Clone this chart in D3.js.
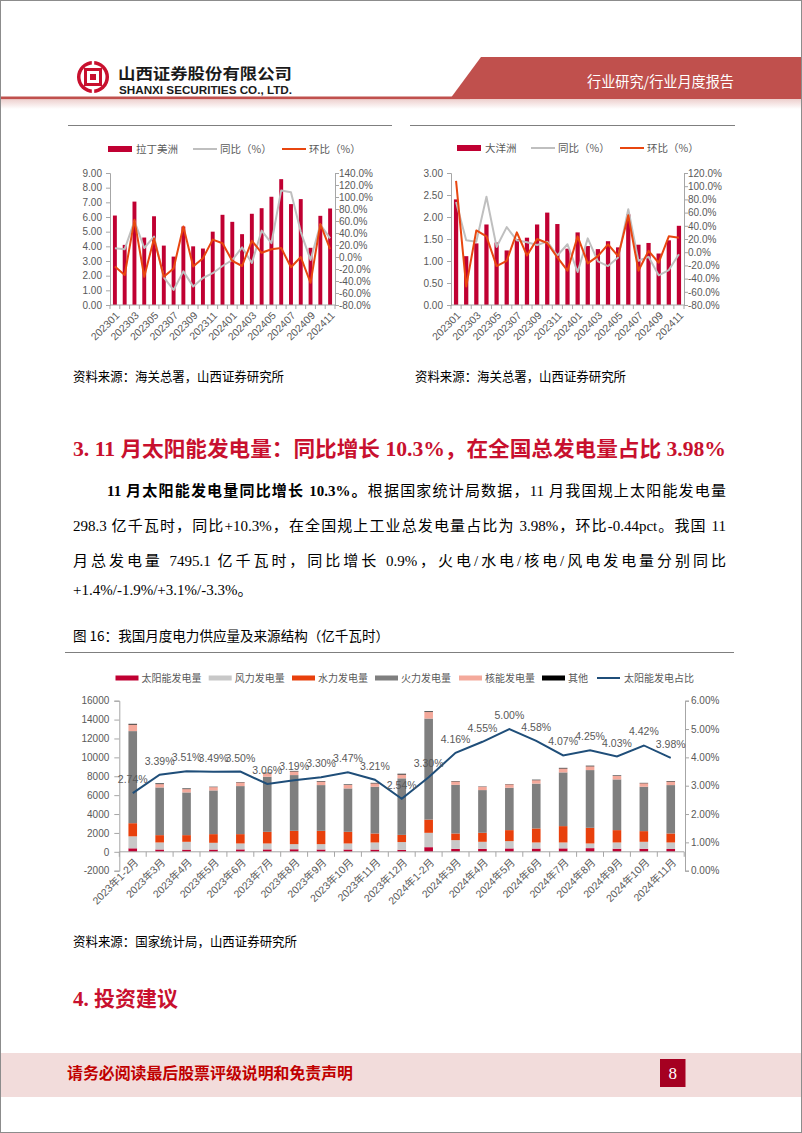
<!DOCTYPE html>
<html><head><meta charset="utf-8">
<script src="https://cdn.jsdelivr.net/npm/d3@7"></script>
<style>html,body{margin:0;padding:0;background:#fff;} svg{display:block}</style>
</head><body>
<svg id="page" width="802" height="1133"></svg>
<script>
// ---------------- DATA ----------------
const months = ['202301','202302','202303','202304','202305','202306','202307','202308','202309','202310','202311','202312','202401','202402','202403','202404','202405','202406','202407','202408','202409','202410','202411'];
const monthTickLabels = ['202301','202303','202305','202307','202309','202311','202401','202403','202405','202407','202409','202411'];

const latamValues = [6.10, 4.10, 7.05, 4.60, 6.05, 4.05, 3.30, 5.35, 4.00, 3.85, 5.00, 6.15, 5.67, 4.83, 6.22, 6.60, 7.38, 8.58, 6.88, 7.22, 3.90, 6.08, 6.58];
const latamYoY = [14.7, 13, 60, 15, 34, -34, -55, -24, -49, -35, -27, -15, -5, 16, -10, 44, 23, 111, 108, 42, -5, 54, 31];
const latamMoM = [-16, -30, 62, -33, 31, -33, -19, 51, -16, -2, 29, 23, -6.5, -15, 27, 7, 13, 15, -17, 0, -43, 55, 13];

const oceaniaValues = [2.40, 1.11, 1.40, 1.83, 1.42, 1.24, 1.50, 1.53, 1.83, 2.10, 1.84, 1.28, 1.65, 1.34, 1.27, 1.45, 1.31, 2.06, 1.37, 1.41, 1.17, 1.47, 1.80];
const oceaniaYoY = [76, 18, 16, 84, 8, 38, 18, 15, 11, 16, -5, 12, -30, 21, -14, -21, -8, 65, -13, -7, -35, -27, -3];
const oceaniaMoM = [108, -52, 33, 24, -21, -13, 30, -5, 20, 14, -8, -28, 24, -17, -6, 12, -6, 56, -28, 2, -16, 24, 22];

const latamLeftTicks = [0,1,2,3,4,5,6,7,8,9];
const latamRightTicks = [-80,-60,-40,-20,0,20,40,60,80,100,120,140];
const oceaniaLeftTicks = [0,0.5,1,1.5,2,2.5,3];
const oceaniaRightTicks = [-80,-60,-40,-20,0,20,40,60,80,100,120];

const powerCategories = ['2023年1-2月','2023年3月','2023年4月','2023年5月','2023年6月','2023年7月','2023年8月','2023年9月','2023年10月','2023年11月','2023年12月','2024年1-2月','2024年3月','2024年4月','2024年5月','2024年6月','2024年7月','2024年8月','2024年9月','2024年10月','2024年11月'];
const solarGen   = [370, 246, 233, 240, 258, 256, 272, 248, 248, 236, 212, 491, 310, 313, 359, 346, 364, 389, 327, 325, 298];
const windGen    = [1270, 743, 827, 714, 625, 627, 540, 564, 635, 753, 820, 1520, 926, 747, 771, 643, 625, 494, 662, 735, 691];
const hydroGen   = [1390, 777, 706, 918, 989, 1236, 1413, 1413, 1236, 954, 760, 1400, 707, 953, 1166, 1484, 1731, 1660, 1307, 1130, 954];
const thermalGen = [9750, 5051, 4522, 4628, 5087, 5829, 5900, 4840, 4593, 4945, 5990, 10700, 5150, 4522, 4486, 4750, 5687, 6111, 5369, 4698, 5122];
const nuclearGen = [690, 353, 353, 353, 388, 380, 390, 370, 370, 360, 400, 690, 360, 350, 360, 360, 420, 400, 370, 370, 380];
const otherGen   = [80, 70, 60, 35, 36, 50, 50, 50, 50, 50, 80, 69, 40, 30, 30, 50, 60, 60, 50, 40, 50];
const solarShare = [2.74, 3.39, 3.51, 3.49, 3.50, 3.06, 3.19, 3.30, 3.47, 3.21, 2.54, 3.30, 4.16, 4.55, 5.00, 4.58, 4.07, 4.25, 4.03, 4.42, 3.98];
const powerLeftTicks = [-2000,0,2000,4000,6000,8000,10000,12000,14000,16000];
const powerRightTicks = [0,1,2,3,4,5,6];
const powerSeriesNames = ['太阳能发电量','风力发电量','水力发电量','火力发电量','核能发电量','其他'];
const shareSeriesName = '太阳能发电占比';

// ---------------- STYLE ----------------
const svg = d3.select('#page');
const SANS = '"Liberation Sans", Arial, "Noto Sans CJK SC", sans-serif';
const CJK = '"Noto Sans CJK SC", sans-serif';
const SERIF = '"Liberation Serif", "Times New Roman", "Noto Sans CJK SC", serif';
const BAR_RED = '#C00032';
const MOM_RED = '#E8460F';
const YOY_GREY = '#BFBFBF';
const AX = '#A6A6A6';
const TXT = '#595959';
const powerColors = ['#C00032', '#C8C8C8', '#E8400C', '#7F7F7F', '#F4A99B', '#000000'];
const SHARE_BLUE = '#1F4E79';

// ---------------- PAGE FRAME / HEADER ----------------
const defs = svg.append('defs');
const gr = defs.append('linearGradient').attr('id','pinkfade').attr('x1',0).attr('y1',0).attr('x2',0).attr('y2',1);
gr.append('stop').attr('offset','0%').attr('stop-color','#EDCFCD');
gr.append('stop').attr('offset','100%').attr('stop-color','#FFFFFF');

svg.append('rect').attr('x',0).attr('y',99).attr('width',802).attr('height',10).attr('fill','url(#pinkfade)');
svg.append('rect').attr('x',0).attr('y',96.5).attr('width',470).attr('height',2.6).attr('fill','#C0504D');
svg.append('path').attr('d','M481,57 L802,57 L802,99 L450,99 Z').attr('fill','#C0504D');
svg.append('text').attr('x',587).attr('y',87).attr('fill','#fff').attr('font-family',CJK).attr('font-size',14.5)
  .attr('textLength',147).attr('lengthAdjust','spacingAndGlyphs').text('行业研究/行业月度报告');

// logo
const logo = svg.append('g').attr('transform','translate(93,77)');
logo.append('circle').attr('r',16).attr('fill','#C8102E');
logo.append('circle').attr('r',12.5).attr('fill','#fff');
logo.append('rect').attr('x',-9).attr('y',-9).attr('width',18).attr('height',18).attr('fill','#C8102E');
logo.append('rect').attr('x',-6).attr('y',-6).attr('width',12).attr('height',12).attr('fill','#fff');
logo.append('rect').attr('x',-3).attr('y',-3).attr('width',6).attr('height',6).attr('fill','#C8102E');
logo.append('rect').attr('x',-1.2).attr('y',-16).attr('width',2.4).attr('height',7).attr('fill','#fff');
logo.append('rect').attr('x',-1.2).attr('y',9).attr('width',2.4).attr('height',7).attr('fill','#fff');

svg.append('text').attr('x',118).attr('y',79).attr('fill','#1a1a1a').attr('font-family',CJK).attr('font-weight','bold')
  .attr('font-size',15).attr('textLength',174).attr('lengthAdjust','spacingAndGlyphs').text('山西证券股份有限公司');
svg.append('text').attr('x',119).attr('y',93.5).attr('fill','#1a1a1a').attr('font-family','"Liberation Sans Narrow","Liberation Sans",Arial,sans-serif').attr('font-weight','bold')
  .attr('font-size',11.5).attr('textLength',173).attr('lengthAdjust','spacingAndGlyphs').text('SHANXI SECURITIES CO., LTD.');

// ---------------- SMALL CHARTS ----------------
svg.append('line').attr('x1',68).attr('x2',392).attr('y1',125.5).attr('y2',125.5).attr('stroke','#7f7f7f');
svg.append('line').attr('x1',410).attr('x2',735).attr('y1',125.5).attr('y2',125.5).attr('stroke','#7f7f7f');

function styleAxis(sel){
  sel.select('.domain').attr('stroke',AX);
  sel.selectAll('.tick line').attr('stroke',AX);
  sel.selectAll('.tick text').attr('fill',TXT).attr('font-family',SANS).attr('font-size',10);
}

function smallChart(cfg){
  const g = svg.append('g');
  const yTop = 173, yBot = 305;
  const x = d3.scaleBand().domain(months).range([cfg.x0, cfg.x1]).paddingInner(cfg.pad).paddingOuter(cfg.pad/2);
  const yL = d3.scaleLinear().domain(cfg.lDomain).range([yBot, yTop]);
  const yR = d3.scaleLinear().domain(cfg.rDomain).range([yBot, yTop]);
  const cx = i => x(months[i]) + x.bandwidth()/2;

  g.selectAll('rect.bar').data(cfg.values).join('rect').attr('class','bar')
    .attr('x',(d,i)=>x(months[i])).attr('y',d=>yL(d)).attr('width',x.bandwidth())
    .attr('height',d=>yL(0)-yL(d)).attr('fill',BAR_RED);

  const la = g.append('g').attr('transform',`translate(${cfg.x0},0)`)
    .call(d3.axisLeft(yL).tickValues(cfg.lTicks).tickFormat(d3.format('.2f')).tickSize(4).tickPadding(4));
  styleAxis(la);
  const ra = g.append('g').attr('transform',`translate(${cfg.x1},0)`)
    .call(d3.axisRight(yR).tickValues(cfg.rTicks).tickFormat(d=>d.toFixed(1)+'%').tickSize(4).tickPadding(0));
  styleAxis(ra);

  g.append('line').attr('x1',cfg.x0).attr('x2',cfg.x1).attr('y1',yL(0)).attr('y2',yL(0)).attr('stroke',AX);
  const step = x.step();
  g.selectAll('line.xt').data(d3.range(months.length+1)).join('line').attr('class','xt')
    .attr('x1',k=>cfg.x0+k*step).attr('x2',k=>cfg.x0+k*step).attr('y1',yL(0)).attr('y2',yL(0)+4).attr('stroke',AX);
  g.selectAll('text.xl').data(monthTickLabels).join('text').attr('class','xl')
    .attr('transform',d=>`translate(${cx(months.indexOf(d))+3},${yL(0)+9}) rotate(-45)`)
    .attr('text-anchor','end').attr('dy','0.3em').attr('fill',TXT).attr('font-family',SANS).attr('font-size',10.5).text(d=>d);

  const line = d3.line().x((d,i)=>cx(i)).y(d=>yR(d));
  g.append('path').attr('d',line(cfg.yoy)).attr('fill','none').attr('stroke',YOY_GREY).attr('stroke-width',2).attr('stroke-linejoin','round');
  g.append('path').attr('d',line(cfg.mom)).attr('fill','none').attr('stroke',MOM_RED).attr('stroke-width',2).attr('stroke-linejoin','round');

  const L = cfg.legend, ly = cfg.legendY;
  g.append('rect').attr('x',L[0]).attr('y',ly-3).attr('width',24).attr('height',6).attr('fill',BAR_RED);
  g.append('text').attr('x',L[0]+28).attr('y',ly).attr('dy','0.35em').attr('font-family',CJK).attr('font-size',10.5).attr('fill',TXT).text(cfg.name);
  g.append('line').attr('x1',L[1]).attr('x2',L[1]+24).attr('y1',ly).attr('y2',ly).attr('stroke',YOY_GREY).attr('stroke-width',2);
  g.append('text').attr('x',L[1]+27).attr('y',ly).attr('dy','0.35em').attr('font-family',CJK).attr('font-size',10.5).attr('fill',TXT).text('同比（%）');
  g.append('line').attr('x1',L[2]).attr('x2',L[2]+24).attr('y1',ly).attr('y2',ly).attr('stroke',MOM_RED).attr('stroke-width',2);
  g.append('text').attr('x',L[2]+27).attr('y',ly).attr('dy','0.35em').attr('font-family',CJK).attr('font-size',10.5).attr('fill',TXT).text('环比（%）');
}

smallChart({x0:110, x1:335, pad:0.6, lDomain:[0,9], rDomain:[-80,140], lTicks:latamLeftTicks, rTicks:latamRightTicks,
  values:latamValues, yoy:latamYoY, mom:latamMoM, name:'拉丁美洲', legend:[108,193,282], legendY:149});
smallChart({x0:451, x1:684, pad:0.58, lDomain:[0,3], rDomain:[-80,120], lTicks:oceaniaLeftTicks, rTicks:oceaniaRightTicks,
  values:oceaniaValues, yoy:oceaniaYoY, mom:oceaniaMoM, name:'大洋洲', legend:[457,531,620], legendY:148});

svg.append('text').attr('x',73).attr('y',381).attr('font-family',CJK).attr('font-size',13).attr('fill','#000')
  .attr('textLength',211).attr('lengthAdjust','spacingAndGlyphs').text('资料来源：海关总署，山西证券研究所');
svg.append('text').attr('x',415).attr('y',381).attr('font-family',CJK).attr('font-size',13).attr('fill','#000')
  .attr('textLength',211).attr('lengthAdjust','spacingAndGlyphs').text('资料来源：海关总署，山西证券研究所');

// ---------------- SECTION TEXT ----------------
svg.append('text').attr('x',73).attr('y',456).attr('font-family',SERIF).attr('font-weight','bold').attr('font-size',21)
  .attr('fill','#C8102E').attr('textLength',653).attr('lengthAdjust','spacingAndGlyphs')
  .text('3. 11 月太阳能发电量：同比增长 10.3%，在全国总发电量占比 3.98%');

function textLine(segments, x0, x1, y, fs){
  const tokens = [];
  segments.forEach(s => (s.t.match(/[A-Za-z0-9.%+\-]+ ?|./g) || []).forEach(t => tokens.push({t, b:s.b})));
  const tmp = svg.append('text').attr('font-family',SERIF).attr('font-size',fs).style('white-space','pre');
  tokens.forEach(k => { tmp.attr('font-weight', k.b ? 'bold' : 'normal').text(k.t); k.w = tmp.node().getComputedTextLength(); });
  tmp.remove();
  const total = d3.sum(tokens, k => k.w);
  const gap = x1 ? (x1 - x0 - total) / (tokens.length - 1) : 0;
  let x = x0;
  tokens.forEach(k => {
    svg.append('text').attr('x',x).attr('y',y).attr('font-family',SERIF).attr('font-size',fs)
      .attr('font-weight', k.b ? 'bold' : 'normal').attr('fill','#000').style('white-space','pre').text(k.t);
    x += k.w + gap;
  });
}
const bodyY = [496, 531, 566, 595];
textLine([{t:'11 月太阳能发电量同比增长 10.3%。', b:true},{t:'根据国家统计局数据，11 月我国规上太阳能发电量', b:false}], 107, 726, bodyY[0], 15);
textLine([{t:'298.3 亿千瓦时，同比+10.3%，在全国规上工业总发电量占比为 3.98%，环比-0.44pct。我国 11', b:false}], 73, 726, bodyY[1], 15);
textLine([{t:'月总发电量 7495.1 亿千瓦时，同比增长 0.9%，火电/水电/核电/风电发电量分别同比', b:false}], 73, 726, bodyY[2], 15);
textLine([{t:'+1.4%/-1.9%/+3.1%/-3.3%。', b:false}], 73, null, bodyY[3], 15);

// ---------------- MAIN CHART ----------------
svg.append('text').attr('x',73).attr('y',641).attr('font-family',CJK).attr('font-size',13.5).attr('fill','#000')
  .attr('textLength',316).attr('lengthAdjust','spacingAndGlyphs').text('图 16：我国月度电力供应量及来源结构（亿千瓦时）');
svg.append('line').attr('x1',65).attr('x2',734).attr('y1',652.5).attr('y2',652.5).attr('stroke','#7f7f7f');

(function(){
  const g = svg.append('g');
  const yTop = 700.7, yBot = 870.7;
  const x = d3.scaleBand().domain(powerCategories).range([119.3, 684.2]).paddingInner(0.68).paddingOuter(0.34);
  const yL = d3.scaleLinear().domain([-2000,16000]).range([yBot,yTop]);
  const yR = d3.scaleLinear().domain([0,6]).range([yBot,yTop]);
  const cx = d => x(d) + x.bandwidth()/2;
  const table = powerCategories.map((c,i)=>({cat:c, s0:solarGen[i], s1:windGen[i], s2:hydroGen[i], s3:thermalGen[i], s4:nuclearGen[i], s5:otherGen[i]}));
  const keys = ['s0','s1','s2','s3','s4','s5'];
  const stacked = d3.stack().keys(keys)(table);
  stacked.forEach((layer,k)=>{
    g.selectAll(null).data(layer).join('rect')
      .attr('x',d=>x(d.data.cat)).attr('width',x.bandwidth())
      .attr('y',d=>yL(d[1])).attr('height',d=>yL(d[0])-yL(d[1])).attr('fill',powerColors[k]);
  });

  const la = g.append('g').attr('transform','translate(119.3,0)')
    .call(d3.axisLeft(yL).tickValues(powerLeftTicks).tickFormat(d=>String(d)).tickSize(5).tickPadding(5));
  styleAxis(la);
  const ra = g.append('g').attr('transform','translate(685,0)')
    .call(d3.axisRight(yR).tickValues(powerRightTicks).tickFormat(d=>d.toFixed(2)+'%').tickSize(4).tickPadding(2));
  styleAxis(ra);

  const y0 = yL(0);
  g.append('line').attr('x1',119.3).attr('x2',684.2).attr('y1',y0).attr('y2',y0).attr('stroke',AX);
  const step = x.step();
  g.selectAll('line.xt').data(d3.range(powerCategories.length+1)).join('line').attr('class','xt')
    .attr('x1',k=>119.3+k*step).attr('x2',k=>119.3+k*step).attr('y1',y0).attr('y2',y0+5).attr('stroke',AX);
  g.selectAll('text.xl').data(powerCategories).join('text').attr('class','xl')
    .attr('transform',d=>`translate(${cx(d)+4},${y0+9}) rotate(-45)`)
    .attr('text-anchor','end').attr('dy','0.3em').attr('fill',TXT).attr('font-family',SANS).attr('font-size',10.5).text(d=>d);

  const line = d3.line().x((d,i)=>cx(powerCategories[i])).y(d=>yR(d));
  g.append('path').attr('d',line(solarShare)).attr('fill','none').attr('stroke',SHARE_BLUE).attr('stroke-width',2);
  g.selectAll('text.lab').data(solarShare).join('text').attr('class','lab')
    .attr('x',(d,i)=>cx(powerCategories[i])).attr('y',d=>yR(d)-10).attr('text-anchor','middle')
    .attr('fill',TXT).attr('font-family',SANS).attr('font-size',10.5).text(d=>d.toFixed(2)+'%');

  const lx = [115.5, 208.7, 292, 375, 459, 542, 597];
  const ly = 678;
  powerSeriesNames.forEach((n,k)=>{
    g.append('rect').attr('x',lx[k]).attr('y',ly-2.5).attr('width',23).attr('height',5).attr('fill',powerColors[k]);
    g.append('text').attr('x',lx[k]+26).attr('y',ly).attr('dy','0.35em').attr('font-family',CJK).attr('font-size',10).attr('fill',TXT).text(n);
  });
  g.append('line').attr('x1',lx[6]).attr('x2',lx[6]+23).attr('y1',ly).attr('y2',ly).attr('stroke',SHARE_BLUE).attr('stroke-width',2);
  g.append('text').attr('x',lx[6]+27).attr('y',ly).attr('dy','0.35em').attr('font-family',CJK).attr('font-size',10).attr('fill',TXT).text(shareSeriesName);
})();

svg.append('text').attr('x',73).attr('y',946).attr('font-family',CJK).attr('font-size',13).attr('fill','#000')
  .attr('textLength',224).attr('lengthAdjust','spacingAndGlyphs').text('资料来源：国家统计局，山西证券研究所');

svg.append('text').attr('x',73).attr('y',1006).attr('font-family',SERIF).attr('font-weight','bold').attr('font-size',21)
  .attr('fill','#C8102E').text('4. 投资建议');

// ---------------- FOOTER ----------------
svg.append('rect').attr('x',0).attr('y',1053).attr('width',802).attr('height',44).attr('fill','#F2DCDB');
svg.append('text').attr('x',67).attr('y',1079).attr('font-family',CJK).attr('font-weight','bold').attr('font-size',15.5)
  .attr('fill','#C00000').attr('textLength',286).attr('lengthAdjust','spacingAndGlyphs').text('请务必阅读最后股票评级说明和免责声明');
svg.append('rect').attr('x',660).attr('y',1059).attr('width',25.5).attr('height',28).attr('fill','#A50021');
svg.append('text').attr('x',672.7).attr('y',1079).attr('text-anchor','middle').attr('font-family',SERIF).attr('font-size',17).attr('fill','#fff').text('8');

svg.append('rect').attr('x',0.5).attr('y',0.5).attr('width',801).attr('height',1132).attr('fill','none').attr('stroke','#8c8c8c');
</script>
</body></html>
